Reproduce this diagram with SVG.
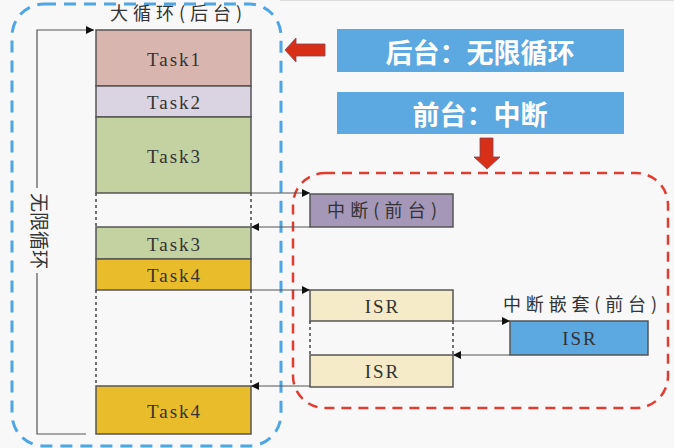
<svg xmlns="http://www.w3.org/2000/svg" width="674" height="448" viewBox="0 0 674 448">
<defs>
<style>
.task{stroke:#555;stroke-width:1.5}
.tt{font-family:"Liberation Serif","Noto Sans CJK SC",serif;font-size:19px;letter-spacing:2px;fill:#333;text-anchor:middle;dominant-baseline:central}
.cn{font-family:"Noto Sans CJK SC",sans-serif;fill:#333;text-anchor:middle}
.lbl{font-family:"Noto Sans CJK SC",sans-serif;font-weight:bold;font-size:27px;fill:#fff;text-anchor:middle;dominant-baseline:central}
.conn{stroke:#555;stroke-width:1.2;fill:none}
.dash{stroke:#444;stroke-width:1.5;stroke-dasharray:3 3;fill:none}
</style>
<marker id="ah" viewBox="0 0 10 10" refX="10" refY="5" markerWidth="8" markerHeight="8" markerUnits="userSpaceOnUse" orient="auto">
<path d="M0,0 L10,5 L0,10 z" fill="#111"/>
</marker>
</defs>
<rect width="674" height="448" fill="#f8f8f8"/>
<line x1="280" y1="0.5" x2="674" y2="0.5" stroke="#ddd" stroke-width="1"/>

<g id="background-loop">
<rect x="12" y="4" width="269" height="442" rx="32" fill="none" stroke="#4ea6e6" stroke-width="3" stroke-dasharray="12 8"/>
<text class="cn" x="176" y="20" font-size="18" textLength="132" lengthAdjust="spacing">大循环(后台)</text>
</g>

<g id="foreground-area">
<rect x="293" y="173" width="375" height="235" rx="32" fill="none" stroke="#e03c31" stroke-width="2.5" stroke-dasharray="10 7"/>
</g>

<g id="task1"><rect class="task" x="96" y="30" width="155" height="56" fill="#d8b5ae"/><text class="tt" x="174.5" y="59">Task1</text></g>
<g id="task2"><rect class="task" x="96" y="86" width="155" height="31" fill="#d9d3e2"/><text class="tt" x="174.5" y="102">Task2</text></g>
<g id="task3a"><rect class="task" x="96" y="117" width="155" height="76" fill="#c4d1a0"/><text class="tt" x="174.5" y="156">Task3</text></g>
<g id="task3b"><rect class="task" x="96" y="227" width="155" height="32" fill="#c4d1a0"/><text class="tt" x="174.5" y="244">Task3</text></g>
<g id="task4a"><rect class="task" x="96" y="259" width="155" height="31" fill="#e8bc2a"/><text class="tt" x="174.5" y="275">Task4</text></g>
<g id="task4b"><rect class="task" x="96" y="386" width="155" height="48" fill="#e8bc2a"/><text class="tt" x="174.5" y="411">Task4</text></g>

<g id="interrupt"><rect class="task" x="310" y="194" width="143" height="33" fill="#a497b7"/><text class="cn" x="382" y="217" font-size="18" textLength="110" lengthAdjust="spacing">中断(前台)</text></g>
<g id="isr1"><rect class="task" x="310" y="290" width="143" height="31" fill="#f5ebc8"/><text class="tt" x="382.5" y="306">ISR</text></g>
<g id="isr2"><rect class="task" x="310" y="355" width="143" height="32" fill="#f5ebc8"/><text class="tt" x="382.5" y="371">ISR</text></g>
<g id="isr-nested"><rect class="task" x="510" y="321" width="138" height="34" fill="#5ca8e0"/><text class="tt" x="580" y="338">ISR</text>
<text class="cn" x="580" y="311" font-size="18" textLength="154" lengthAdjust="spacing">中断嵌套(前台)</text></g>

<g id="label-background"><rect x="337" y="29" width="287" height="43" fill="#5ca8e0"/><text class="lbl" x="480" y="51">后台：无限循环</text></g>
<g id="label-foreground"><rect x="337" y="92" width="287" height="42" fill="#5ca8e0"/><text class="lbl" x="480" y="113">前台：中断</text></g>

<g id="loop-label">
<text class="cn" font-size="19" transform="translate(40,231) rotate(90)" dominant-baseline="central">无限循环</text>
</g>

<g id="connectors">
<polyline class="conn" points="86,434 37,434 37,273"/>
<polyline class="conn" points="37,188 37,30 94,30" marker-end="url(#ah)"/>
<line class="dash" x1="96" y1="193" x2="96" y2="227"/>
<line class="dash" x1="251" y1="193" x2="251" y2="227"/>
<line class="dash" x1="96" y1="290" x2="96" y2="386"/>
<line class="dash" x1="251" y1="290" x2="251" y2="386"/>
<line class="dash" x1="310" y1="321" x2="310" y2="355"/>
<line class="dash" x1="453" y1="321" x2="453" y2="355"/>
<line class="conn" x1="251" y1="193" x2="310" y2="193" marker-end="url(#ah)"/>
<line class="conn" x1="310" y1="227" x2="251" y2="227" marker-end="url(#ah)"/>
<line class="conn" x1="251" y1="290" x2="310" y2="290" marker-end="url(#ah)"/>
<line class="conn" x1="310" y1="386" x2="251" y2="386" marker-end="url(#ah)"/>
<line class="conn" x1="453" y1="321" x2="510" y2="321" marker-end="url(#ah)"/>
<line class="conn" x1="510" y1="355" x2="453" y2="355" marker-end="url(#ah)"/>
<path d="M325,44 L296,44 L296,38 L285,50 L296,62 L296,56 L325,56 z" fill="#d83018" stroke="#8a4050" stroke-width="0.8"/>
<path d="M480,138 L493,138 L493,157 L500,157 L487,169 L474,157 L480,157 z" fill="#d83018" stroke="#8a4050" stroke-width="0.8"/>
</g>
</svg>
